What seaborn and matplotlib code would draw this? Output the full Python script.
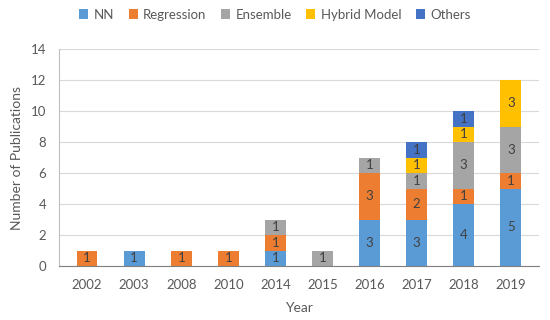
import numpy as np
import pandas as pd
import matplotlib
matplotlib.use("Agg")
import matplotlib.pyplot as plt
import seaborn as sns

years = ['2002', '2003', '2008', '2010', '2014', '2015', '2016', '2017', '2018', '2019']
nn = [0, 1, 0, 0, 1, 0, 3, 3, 4, 5]
regression = [1, 0, 1, 1, 1, 0, 3, 2, 1, 1]
ensemble = [0, 0, 0, 0, 1, 1, 1, 1, 3, 3]
hybrid = [0, 0, 0, 0, 0, 0, 0, 1, 1, 3]
others = [0, 0, 0, 0, 0, 0, 0, 1, 1, 0]

series = {'NN': nn, 'Regression': regression, 'Ensemble': ensemble,
          'Hybrid Model': hybrid, 'Others': others}
colors = {'NN': '#5B9BD5', 'Regression': '#ED7D31', 'Ensemble': '#A5A5A5',
          'Hybrid Model': '#FFC000', 'Others': '#4472C4'}

sns.set_style("white")
plt.rcParams['font.family'] = ['Lato', 'DejaVu Sans']
txt = '#595959'

fig, ax = plt.subplots(figsize=(5.5, 3.2), dpi=100)
fig.subplots_adjust(left=0.107, right=0.98, top=0.847, bottom=0.168)

bottom = np.zeros(len(years))
for name, vals in series.items():
    df = pd.DataFrame({'Year': years, 'Count': vals})
    sns.barplot(data=df, x='Year', y='Count', color=colors[name], width=0.44,
                bottom=bottom, ax=ax, label=name, saturation=1, linewidth=0)
    cont = ax.containers[-1]
    ax.bar_label(cont, labels=[str(v) if v else '' for v in vals],
                 label_type='center', fontsize=9.5, color='#404040')
    bottom = bottom + np.array(vals)

ax.set_ylim(0, 14)
ax.set_yticks(range(0, 15, 2))
ax.yaxis.grid(True, color='#D9D9D9', linewidth=0.8)
ax.set_axisbelow(True)
for s in ['top', 'right']:
    ax.spines[s].set_visible(False)
ax.spines['left'].set_color('#BFBFBF')
ax.spines['bottom'].set_color('#7F7F7F')
ax.tick_params(axis='both', colors=txt, labelsize=9.5, length=0, pad=9)
ax.set_xlabel('Year', color=txt, fontsize=10, labelpad=8)
ax.set_ylabel('Number of Publications', color=txt, fontsize=10, labelpad=6)
ax.set_xlim(-0.6, len(years) - 0.4)

ax.legend(loc='upper center', bbox_to_anchor=(0.45, 1.24), ncol=5, frameon=False,
          fontsize=9.5, handlelength=0.7, handleheight=0.7, handletextpad=0.4,
          columnspacing=1.1, labelcolor=txt)

fig.savefig('out.png')
